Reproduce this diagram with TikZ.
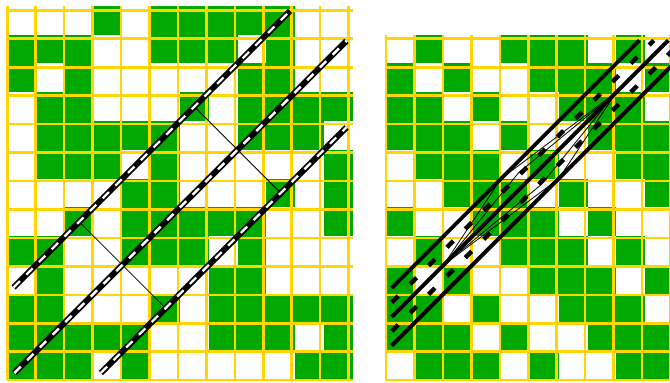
\documentclass[tikz,border=0pt]{standalone}
\definecolor{cgreen}{RGB}{0,168,0}
\definecolor{cyellow}{RGB}{255,214,0}
\tikzset{
  gridline/.style={cyellow, line width=2.6pt},
  stripbase/.style={black, line width=6pt},
  stripdash/.style={white, line width=2.4pt, dash pattern=on 9pt off 9pt},
  thinline/.style={black, line width=0.8pt},
  solidline/.style={black, line width=3.8pt},
  dashline/.style={black, line width=4.4pt, dash pattern=on 9pt off 17pt},
}
\begin{document}
\begin{tikzpicture}[x=1pt,y=1pt]
\useasboundingbox (0,0) rectangle (670,383);
\fill[white] (0,0) rectangle (670,383);
% ---------------- left grid ----------------
\begin{scope}[shift={(7.2,2.8)}, x=28.8pt, y=28.8pt]
\foreach \row [count=\r from 0] in {
 {0,0,0,1,0,1,1,1,1,1,0,0},
 {1,1,1,0,0,1,1,1,0,1,0,0},
 {1,0,1,0,0,0,0,0,1,1,0,0},
 {0,1,1,0,0,0,1,0,1,1,1,1},
 {0,1,1,1,1,1,0,0,1,1,1,0},
 {0,1,1,1,0,1,0,0,0,0,0,1},
 {0,0,0,0,1,1,0,0,0,1,0,1},
 {0,0,1,0,1,1,1,1,1,0,0,1},
 {1,1,0,0,1,1,1,0,1,0,0,0},
 {0,1,0,0,0,0,0,1,1,0,0,0},
 {1,1,0,0,0,1,0,1,1,1,1,1},
 {1,1,1,1,1,0,0,1,1,1,0,1},
 {1,1,1,0,1,0,0,0,0,0,1,1}}{
  \foreach \v [count=\c from 0] in \row {
    \ifnum\v=1 \fill[cgreen] ({\c},{12-\r}) rectangle ++(1,1); \fi
  }
}
\draw[gridline] (0,0) grid (12,13);
% strip points
\coordinate (la1) at (0.22,3.22);  \coordinate (lb1) at (9.82,12.82);
\coordinate (la2) at (0.25,0.25);  \coordinate (lb2) at (11.78,11.78);
\coordinate (la3) at (3.25,0.25);  \coordinate (lb3) at (11.78,8.78);
\coordinate (p1) at (6.5,9.5); \coordinate (p2) at (8,8); \coordinate (p3) at (9.5,6.5);
\coordinate (q1) at (2.5,5.5); \coordinate (q2) at (4,4); \coordinate (q3) at (5.5,2.5);
\draw[thinline] (p1) -- (p2) -- (p3);
\draw[thinline] (q1) -- (q2) -- (q3);
\foreach \i in {1,2,3}{
  \draw[stripbase] (la\i) -- (lb\i);
  \draw[stripdash] (la\i) -- (lb\i);
}
\end{scope}
% ---------------- right grid ----------------
\begin{scope}[shift={(386,2.8)}, x=28.8pt, y=28.8pt]
\foreach \r in {0,...,11}{
  \foreach \c in {0,...,10}{
    \pgfmathtruncatemacro\k{mod(\c-\r+14,7)}
    \pgfmathtruncatemacro\g{(\k==1)||(\k==4)||(\k==5)||(\k==6)}
    \ifnum\g=1 \fill[cgreen] ({\c},{11-\r}) rectangle ++(1,1); \fi
  }
}
\draw[gridline] (0,0) grid (11,12);
\coordinate (ra) at (2,4); \coordinate (rb) at (8,10);
\coordinate (ru) at (4,7); \coordinate (rl) at (6,7);
\coordinate (iu) at (4.6,7.2); \coordinate (il) at (5.4,6.8);
\draw[thinline] (ra) -- (ru) -- (rb) -- (rl) -- cycle;
\draw[thinline] (ra) -- (iu) -- (rb) -- (il) -- cycle;
\coordinate (sA1) at (0.2,3.2);  \coordinate (sA2) at (8.8,11.8);
\coordinate (sD1) at (0.2,2.7);  \coordinate (sD2) at (9.3,11.8);
\coordinate (sB1) at (0.2,2.2);  \coordinate (sB2) at (9.8,11.8);
\coordinate (sE1) at (0.2,1.7);  \coordinate (sE2) at (10.3,11.8);
\coordinate (sC1) at (0.2,1.2);  \coordinate (sC2) at (10.8,11.8);
\draw[solidline] (sA1) -- (sA2);
\draw[solidline] (sB1) -- (sB2);
\draw[solidline] (sC1) -- (sC2);
\draw[dashline] (sD1) -- (sD2);
\draw[dashline] (sE1) -- (sE2);
\end{scope}
\end{tikzpicture}
\end{document}
